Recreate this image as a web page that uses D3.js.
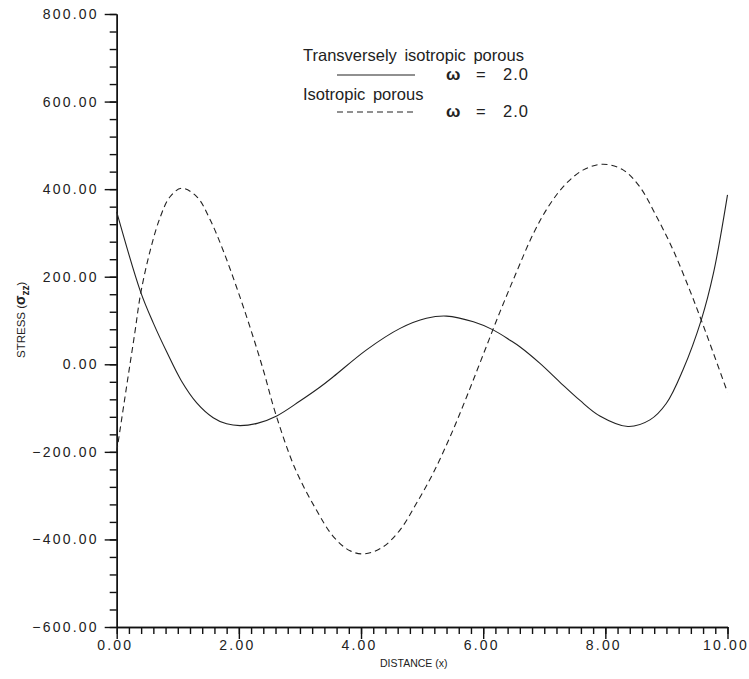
<!DOCTYPE html>
<html>
<head>
<meta charset="utf-8">
<script src="https://cdn.jsdelivr.net/npm/d3@7"></script>
<style>
  body { margin: 0; background: white; }
  text { font-family: "Liberation Sans", Arial, sans-serif; fill: #222; }
</style>
</head>
<body>
<div id="chart"></div>
<script>
// transversely isotropic porous, omega = 2.0 (solid)
var transX = [0, 0.39, 0.60, 0.82, 1.06, 1.31, 1.58, 1.80, 2.02, 2.30, 2.62, 3.0, 3.33, 3.55, 4.09, 4.64, 5.07, 5.40, 5.84, 6.17, 6.44, 6.60, 6.93, 7.25, 7.58, 7.91, 8.37, 8.73, 9.0, 9.27, 9.57, 9.77, 10.0];
var transY = [348, 166, 94, 28, -38, -88, -122, -136, -140, -135, -118, -84, -52, -28, 33, 82, 105, 110, 97, 78, 55, 40, 2, -40, -82, -118, -142, -127, -89, -13, 101, 208, 387];

// isotropic porous, omega = 2.0 (dashed)
var isoX = [0, 0.19, 0.30, 0.39, 0.545, 0.71, 0.87, 1.06, 1.31, 1.53, 1.74, 1.96, 2.18, 2.40, 2.60, 2.92, 3.27, 3.55, 3.82, 4.06, 4.36, 4.64, 4.91, 5.18, 5.46, 5.73, 6.0, 6.27, 6.55, 6.82, 7.09, 7.36, 7.64, 7.96, 8.29, 8.56, 8.84, 9.11, 9.38, 9.57, 9.77, 10.0];
var isoY = [-200, -25, 75, 160, 258, 335, 382, 402, 383, 330, 261, 177, 86, -13, -112, -238, -333, -394, -426, -433, -417, -378, -317, -249, -165, -74, 22, 118, 212, 298, 365, 413, 444, 457, 444, 406, 337, 261, 170, 101, 25, -64];

var yMajor = [-600, -400, -200, 0, 200, 400, 600, 800];
var xMajor = [0, 2, 4, 6, 8, 10];

var width = 749, height = 679;

var svg = d3.select("#chart")
    .append("svg")
    .attr("width", width)
    .attr("height", height);

svg.append("rect")
    .attr("width", "100%")
    .attr("height", "100%")
    .attr("fill", "white");

var x = d3.scaleLinear().domain([0, 10]).range([116.7, 727.5]);
var y = d3.scaleLinear().domain([-600, 800]).range([627, 14]);

var fmt = d3.format(".2f");

// minor ticks
svg.append("g")
    .attr("class", "axis")
    .attr("transform", "translate(" + x(0) + ",0)")
    .call(d3.axisLeft(y).tickValues(d3.range(-600, 801, 40)).tickSize(7).tickSizeOuter(0).tickFormat(""));
svg.append("g")
    .attr("class", "axis")
    .attr("transform", "translate(0," + y(-600) + ")")
    .call(d3.axisBottom(x).tickValues(d3.range(0, 10.01, 0.2)).tickSize(7).tickSizeOuter(0).tickFormat(""));

// major ticks with labels
var yAxis = svg.append("g")
    .attr("class", "axis")
    .attr("transform", "translate(" + x(0) + ",0)")
    .call(d3.axisLeft(y).tickValues(yMajor).tickSize(12).tickSizeOuter(0).tickPadding(6).tickFormat(fmt));
var xAxis = svg.append("g")
    .attr("class", "axis")
    .attr("transform", "translate(0," + y(-600) + ")")
    .call(d3.axisBottom(x).tickValues(xMajor).tickSize(12).tickSizeOuter(0).tickPadding(1).tickFormat(fmt));

svg.selectAll(".axis path, .axis line")
    .attr("stroke", "#111")
    .attr("stroke-width", 1.4);
svg.selectAll(".axis text")
    .attr("fill", "#222")
    .style("font-family", "'Liberation Sans', Arial, sans-serif")
    .style("font-size", "14px")
    .style("letter-spacing", "2.2px");
xAxis.selectAll("text").attr("dx", "-2px");

// curves
var line = d3.line()
    .x(function(d) { return x(d[0]); })
    .y(function(d) { return y(d[1]); })
    .curve(d3.curveCatmullRom.alpha(0.5));

svg.append("path")
    .datum(d3.zip(transX, transY))
    .attr("fill", "none")
    .attr("stroke", "#222")
    .attr("stroke-width", 1.1)
    .attr("d", line);

svg.append("path")
    .datum(d3.zip(isoX, isoY))
    .attr("fill", "none")
    .attr("stroke", "#222")
    .attr("stroke-width", 1.1)
    .attr("stroke-dasharray", "6,4")
    .attr("d", line);

// axis titles
svg.append("text")
    .attr("x", 380)
    .attr("y", 667)
    .style("font-size", "10.5px")
    .text("DISTANCE (x)");

var yt = svg.append("text")
    .attr("transform", "translate(25,358) rotate(-90)")
    .style("font-size", "11.5px");
yt.append("tspan").text("STRESS (");
yt.append("tspan").attr("font-weight", "bold").style("font-size", "14px").text("σ");
yt.append("tspan").attr("font-weight", "bold").attr("dy", 4).style("font-size", "10px").text("zz");
yt.append("tspan").attr("dy", -4).text(")");

// legend
var legend = svg.append("g");
var entries = [
  { label: "Transversely isotropic porous", dash: null, y: 61, row: 80 },
  { label: "Isotropic porous", dash: "6,4", y: 100, row: 117 }
];
entries.forEach(function(e) {
  legend.append("text")
      .attr("x", 303)
      .attr("y", e.y)
      .style("font-size", "16.5px")
      .style("word-spacing", "3px")
      .text(e.label);
  legend.append("line")
      .attr("x1", 337).attr("x2", 415)
      .attr("y1", e.row - 5).attr("y2", e.row - 5)
      .attr("stroke", "#222")
      .attr("stroke-width", 1.2)
      .attr("stroke-dasharray", e.dash);
  legend.append("text")
      .attr("x", 446).attr("y", e.row)
      .attr("font-weight", "bold")
      .style("font-size", "17px")
      .text("ω");
  legend.append("text")
      .attr("x", 476).attr("y", e.row)
      .style("font-size", "16.5px")
      .text("=");
  legend.append("text")
      .attr("x", 503).attr("y", e.row)
      .style("font-size", "16.5px")
      .style("letter-spacing", "1px")
      .text("2.0");
});
</script>
</body>
</html>
